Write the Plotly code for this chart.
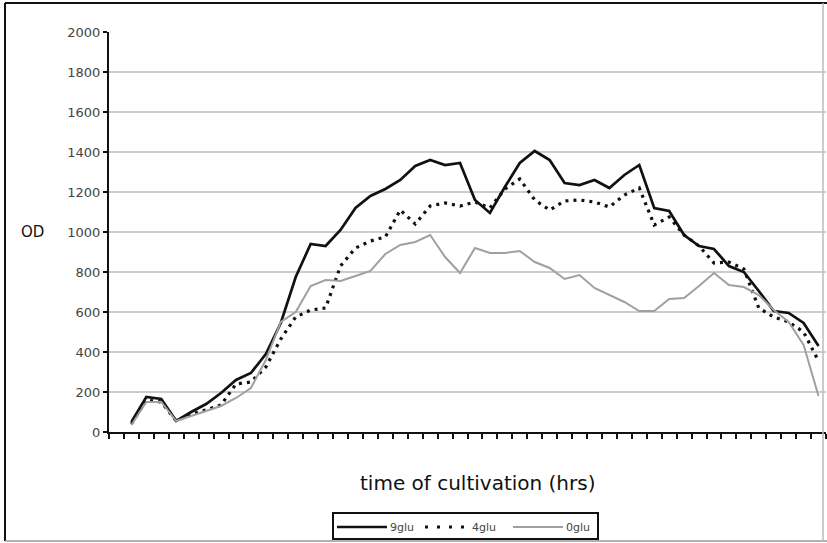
import plotly.graph_objects as go

# category slots (first slot is empty in the original Excel chart)
slots = list(range(1, 49))
x_data = slots[1:]  # 47 measurement points

glu9 = [50, 175, 165, 55, 100, 140, 195, 260, 295, 390, 545, 775, 940, 930, 1010,
        1120, 1180, 1215, 1260, 1330, 1360, 1335, 1345, 1160, 1095, 1225, 1345, 1405,
        1360, 1245, 1235, 1260, 1220, 1285, 1335, 1120, 1105, 985, 930, 915, 830, 800,
        705, 605, 595, 545, 430]
glu4 = [40, 160, 150, 55, 90, 110, 135, 240, 250, 325, 465, 575, 610, 620, 830,
        920, 955, 975, 1110, 1040, 1130, 1145, 1130, 1150, 1120, 1215, 1265, 1160,
        1110, 1155, 1160, 1150, 1125, 1185, 1220, 1035, 1075, 985, 930, 845, 850, 815,
        620, 575, 550, 500, 355]
glu0 = [35, 150, 150, 55, 80, 105, 130, 170, 220, 360, 550, 600, 730, 760, 755,
        780, 805, 890, 935, 950, 985, 875, 795, 920, 895, 895, 905, 850, 820, 765,
        785, 720, 685, 650, 605, 605, 665, 670, 730, 795, 735, 725, 685, 610, 550,
        435, 180]
series_names = ["9glu", "4glu", "0glu"]

y_ticks = list(range(0, 2001, 200))

W, H = 827, 543
L, R, T, B = 109, 1, 32, 111
pw, ph = W - L - R, H - T - B

def px(x):
    return (x - L) / pw

def py(y):
    return (H - B - y) / ph

font_fam = "DejaVu Sans, Verdana, sans-serif"

styles = [dict(color="#111111", width=2.7),
          dict(color="#111111", width=3.2, dash="3px,5px"),
          dict(color="#a0a0a0", width=2)]
legend_styles = [dict(color="#111111", width=2.5),
                 dict(color="#111111", width=3, dash="3px,9px"),
                 dict(color="#a0a0a0", width=2)]

fig = go.Figure()
for name, vals, st in zip(series_names, [glu9, glu4, glu0], styles):
    fig.add_trace(go.Scatter(x=x_data, y=vals, name=name, mode="lines",
                             line=st, showlegend=False))

fig.update_layout(
    width=W, height=H,
    margin=dict(l=L, r=R, t=T, b=B),
    paper_bgcolor="white", plot_bgcolor="white",
    font=dict(family=font_fam, color="#333333"),
    showlegend=False,
    xaxis=dict(range=[0.5, 48.5], tickvals=[s + 0.5 for s in range(0, 49)],
               ticktext=["" for _ in range(49)],
               ticks="outside", ticklen=5, tickwidth=1.5, tickcolor="#111111",
               showline=True, linecolor="#111111", linewidth=2,
               showgrid=False, zeroline=False, fixedrange=True),
    yaxis=dict(range=[0, 2000], tickvals=y_ticks,
               ticktext=[str(v) for v in y_ticks],
               ticks="outside", ticklen=4, tickwidth=1.5, tickcolor="#111111",
               showline=True, linecolor="#111111", linewidth=2,
               showgrid=True, gridcolor="#cccccc", gridwidth=2,
               zeroline=False, tickfont=dict(size=13, color="#444444"),
               fixedrange=True),
)

fig.add_annotation(text="OD", xref="paper", yref="paper", x=px(32), y=py(232),
                   xanchor="center", yanchor="middle",
                   showarrow=False, font=dict(size=15, color="#111111"))
fig.add_annotation(text="time of cultivation (hrs)", xref="paper", yref="paper",
                   x=px(478), y=py(483), xanchor="center", yanchor="middle",
                   showarrow=False, font=dict(size=20, color="#111111"))

# chart-area border
fig.add_shape(type="line", xref="paper", yref="paper", x0=px(5), x1=px(5),
              y0=py(541), y1=py(3), line=dict(color="#111111", width=2))
fig.add_shape(type="line", xref="paper", yref="paper", x0=px(5), x1=px(827),
              y0=py(3), y1=py(3), line=dict(color="#111111", width=2))
fig.add_shape(type="line", xref="paper", yref="paper", x0=px(5), x1=px(827),
              y0=py(541), y1=py(541), line=dict(color="#999999", width=1.5))
fig.add_shape(type="line", xref="paper", yref="paper", x0=px(823), x1=px(823),
              y0=py(541), y1=py(3), line=dict(color="#bbbbbb", width=1.5))

# custom legend (Excel style: long line samples, text right after)
fig.add_shape(type="rect", xref="paper", yref="paper", x0=px(333), x1=px(598),
              y0=py(539), y1=py(513), line=dict(color="#111111", width=2),
              fillcolor="white")
leg_y = 527
leg_items = [(337, 387, 388), (425, 472, 470), (513, 563, 564)]
for name, st, (lx0, lx1, tx) in zip(series_names, legend_styles, leg_items):
    fig.add_shape(type="line", xref="paper", yref="paper", x0=px(lx0), x1=px(lx1),
                  y0=py(leg_y), y1=py(leg_y), line=st)
    fig.add_annotation(text=name, xref="paper", yref="paper", x=px(tx), y=py(leg_y),
                       xanchor="left", yanchor="middle", showarrow=False,
                       font=dict(size=11, color="#444444"))

fig.write_html("out.html", config={"displayModeBar": False},
               post_script="document.body.style.margin='0';document.body.style.overflow='hidden';")
